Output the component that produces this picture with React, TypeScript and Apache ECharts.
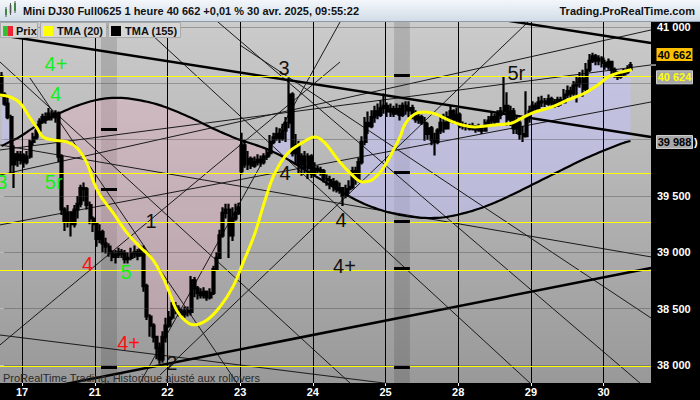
import React, { useEffect, useRef } from 'react';
import * as echarts from 'echarts';

const FONT = '"Liberation Sans", Arial, sans-serif';

// ---- axes ----
const dayTicks = [7, 30, 53, 76, 99, 122, 145, 168, 191];
const dayLabels = ['17', '21', '22', '23', '24', '25', '28', '29', '30'];
const priceTicks = [38000, 38500, 39000, 39500, 40000, 40500, 41000];
const priceLabels = [38000, 38500, 39000, 39500, 41000];
const yellowLevels = [40565, 39705, 39270, 38845, 37990];

// ---- hourly candles [open, close, low, high] ----
const candles: number[][] = [
  [40560, 40400, 40380, 40600], [40400, 40320, 40300, 40420], [40320, 40200, 40180, 40380], [40200, 39780, 39700, 40220],
  [39780, 39870, 39570, 39950], [39870, 39820, 39760, 39900], [39820, 39860, 39780, 39900], [39860, 39800, 39750, 39880],
  [39800, 39850, 39780, 39900], [39850, 39980, 39830, 40000], [39980, 40020, 39950, 40060], [40020, 40080, 40000, 40110],
  [40080, 40160, 40060, 40190], [40160, 40200, 40140, 40230], [40200, 40180, 40140, 40240], [40180, 40230, 40170, 40280],
  [40230, 40200, 40170, 40260], [40200, 40230, 40150, 40260], [40230, 39850, 39800, 40250], [39850, 39380, 39330, 39870],
  [39380, 39270, 39190, 39400], [39270, 39350, 39220, 39420], [39350, 39250, 39140, 39360], [39250, 39380, 39220, 39420],
  [39380, 39430, 39300, 39500], [39430, 39570, 39400, 39600], [39570, 39560, 39450, 39620], [39560, 39420, 39380, 39580],
  [39420, 39300, 39250, 39450], [39300, 39250, 39180, 39320], [39250, 39120, 39050, 39260], [39120, 39180, 39080, 39250],
  [39180, 39080, 39000, 39200], [39080, 39050, 38990, 39130], [39050, 39000, 38960, 39080], [39000, 38960, 38920, 39020],
  [38960, 38980, 38900, 39020], [38980, 39000, 38950, 39040], [39000, 38990, 38950, 39030], [38990, 38940, 38900, 39020],
  [38940, 38950, 38900, 39000], [38950, 38990, 38930, 39040], [38990, 39000, 38950, 39060], [39000, 38970, 38930, 39030],
  [38970, 39030, 38960, 39060], [39030, 38700, 38650, 39060], [38700, 38430, 38400, 38720], [38430, 38350, 38250, 38450],
  [38350, 38250, 38200, 38370], [38250, 38150, 38050, 38260], [38150, 38050, 38010, 38200], [38050, 38250, 38020, 38300],
  [38250, 38350, 38200, 38420], [38350, 38420, 38330, 38480], [38420, 38520, 38400, 38560], [38520, 38500, 38450, 38560],
  [38500, 38470, 38430, 38530], [38470, 38450, 38420, 38500], [38450, 38480, 38420, 38520], [38480, 38470, 38430, 38520],
  [38470, 38750, 38440, 38790], [38750, 38680, 38600, 38780], [38680, 38640, 38580, 38700], [38640, 38620, 38590, 38680],
  [38620, 38650, 38590, 38690], [38650, 38600, 38570, 38660], [38600, 38640, 38580, 38680], [38640, 38850, 38620, 38880],
  [38850, 38950, 38840, 39000], [38950, 39150, 38940, 39200], [39150, 39350, 39130, 39400], [39350, 39380, 39300, 39430],
  [39380, 39150, 38950, 39430], [39150, 39300, 39100, 39400], [39300, 39350, 39280, 39430], [39350, 39400, 39330, 39440],
  [39720, 39950, 39690, 40060], [39950, 39780, 39750, 40000], [39780, 39830, 39730, 39900], [39830, 39770, 39740, 39850],
  [39770, 39800, 39750, 39850], [39800, 39820, 39770, 39870], [39820, 39800, 39760, 39860], [39800, 39850, 39780, 39880],
  [39850, 39880, 39820, 39920], [39880, 39980, 39850, 40040], [39980, 40020, 39960, 40060], [40020, 40050, 39990, 40110],
  [40050, 40010, 39970, 40100], [40010, 40080, 39990, 40140], [40080, 40150, 39980, 40200], [40150, 40400, 40100, 40550],
  [40400, 39880, 39850, 40420], [39880, 39950, 39780, 40050], [39950, 39780, 39700, 39990], [39780, 39850, 39680, 39880],
  [39850, 39750, 39700, 39900], [39750, 39850, 39650, 39880], [39850, 39700, 39660, 39870], [39700, 39740, 39680, 39800],
  [39740, 39730, 39700, 39770], [39730, 39720, 39680, 39760], [39720, 39650, 39620, 39740], [39650, 39640, 39590, 39690],
  [39640, 39600, 39560, 39680], [39600, 39620, 39540, 39660], [39620, 39560, 39530, 39640], [39560, 39570, 39520, 39620],
  [39570, 39500, 39410, 39580], [39500, 39560, 39480, 39600], [39560, 39580, 39520, 39640], [39580, 39720, 39560, 39760],
  [39720, 39650, 39600, 39760], [39650, 39800, 39620, 39840], [39800, 39980, 39780, 40030], [39980, 40150, 39950, 40200],
  [40150, 40120, 40050, 40250], [40120, 40200, 40100, 40260], [40200, 40250, 40150, 40300], [40250, 40220, 40180, 40320],
  [40220, 40280, 40200, 40350], [40280, 40300, 40230, 40410], [40300, 40250, 40200, 40330], [40250, 40270, 40200, 40320],
  [40270, 40230, 40200, 40300], [40230, 40270, 40220, 40320], [40270, 40220, 40170, 40310], [40220, 40300, 40200, 40330],
  [40300, 40260, 40220, 40340], [40260, 40280, 40200, 40340], [40280, 40230, 40180, 40310], [40230, 40180, 40150, 40260],
  [40180, 40200, 40140, 40240], [40200, 40150, 40130, 40220], [40150, 40050, 39990, 40200], [40050, 40100, 40000, 40150],
  [40100, 40000, 39950, 40120], [40000, 39980, 39860, 40060], [39980, 40080, 39960, 40100], [40080, 40150, 40050, 40200],
  [40150, 40100, 40060, 40230], [40100, 40200, 40090, 40250], [40200, 40250, 40150, 40300], [40250, 40180, 40140, 40270],
  [40180, 40220, 40150, 40280], [40220, 40130, 40100, 40240], [40130, 40120, 40090, 40160], [40120, 40110, 40080, 40150],
  [40110, 40100, 40080, 40140], [40100, 40120, 40080, 40150], [40120, 40090, 40060, 40130], [40090, 40100, 40070, 40140],
  [40100, 40080, 40050, 40120], [40080, 40150, 40070, 40180], [40150, 40170, 40120, 40210], [40170, 40200, 40130, 40240],
  [40200, 40160, 40130, 40230], [40160, 40220, 40150, 40260], [40220, 40250, 40180, 40290], [40250, 40300, 40220, 40560],
  [40300, 40180, 40120, 40420], [40180, 40250, 40120, 40300], [40250, 40100, 40050, 40280], [40100, 40150, 40050, 40200],
  [40150, 40050, 40000, 40180], [40050, 40030, 39980, 40120], [40030, 40200, 40020, 40430], [40200, 40250, 40150, 40300],
  [40250, 40300, 40230, 40340], [40300, 40280, 40240, 40330], [40280, 40330, 40260, 40380], [40330, 40340, 40290, 40390],
  [40340, 40320, 40290, 40370], [40320, 40360, 40300, 40400], [40360, 40330, 40300, 40380], [40330, 40300, 40280, 40360],
  [40300, 40350, 40290, 40380], [40350, 40330, 40300, 40380], [40330, 40400, 40320, 40450], [40400, 40430, 40370, 40480],
  [40430, 40410, 40370, 40470], [40410, 40480, 40390, 40520], [40480, 40500, 40330, 40560], [40500, 40540, 40460, 40600],
  [40540, 40450, 40380, 40620], [40450, 40620, 40430, 40680], [40620, 40700, 40600, 40760], [40700, 40740, 40680, 40770],
  [40740, 40700, 40660, 40760], [40700, 40720, 40660, 40750], [40720, 40680, 40640, 40740], [40680, 40650, 40620, 40710],
  [40650, 40690, 40620, 40720], [40690, 40620, 40580, 40700], [40620, 40580, 40550, 40640], [40580, 40560, 40530, 40610],
  [40560, 40580, 40540, 40610], [40580, 40600, 40560, 40630], [40600, 40620, 40580, 40660], [40620, 40662, 40610, 40690],
];

// ---- TMA(155), one value per bar ----
const tma155 = [
  39944, 39958, 39972, 39986, 40000, 40012, 40030,
  40048, 40067, 40086, 40104, 40122, 40140, 40158, 40175, 40192,
  40205, 40218, 40231, 40244, 40256, 40268, 40280,
  40292, 40302, 40312, 40321, 40330, 40338, 40345, 40352,
  40357, 40362, 40366, 40369,
  40370, 40371, 40371, 40370, 40368, 40366, 40362,
  40358, 40353, 40348, 40342, 40336, 40330, 40323,
  40315, 40306, 40297, 40287, 40276, 40265,
  40254, 40242, 40230, 40218, 40206, 40194,
  40181, 40167, 40153, 40139, 40125, 40111, 40097,
  40085, 40072, 40060, 40048, 40036, 40024,
  40013, 40002, 39992, 39983, 39975, 39966,
  39957, 39947, 39937, 39927, 39917, 39905,
  39891, 39877, 39863, 39849, 39834, 39818,
  39801, 39784, 39767, 39750, 39732, 39715,
  39698, 39681, 39664, 39647, 39630, 39613, 39596,
  39579, 39562, 39545, 39528, 39512, 39497,
  39482, 39467, 39453, 39440, 39427, 39415,
  39404, 39394, 39384, 39375, 39366, 39358, 39351,
  39344, 39338, 39332, 39327, 39322, 39318, 39314,
  39311, 39308, 39306, 39305, 39304, 39304, 39305,
  39306, 39308, 39311, 39315, 39320, 39325, 39331,
  39338, 39345, 39352, 39360, 39368, 39377, 39386,
  39396, 39406, 39417, 39428, 39440, 39452, 39465,
  39478, 39491, 39504, 39517, 39531, 39545, 39559,
  39573, 39587, 39601, 39615, 39629, 39643, 39657,
  39671, 39685, 39699, 39713, 39727, 39741, 39755,
  39769, 39783, 39797, 39810, 39823, 39836, 39849,
  39861, 39873, 39885, 39897, 39908, 39919, 39930,
  39941, 39952, 39963, 39973, 39981, 39988,
];

// ---- TMA(20), readings [x, value] ----
const tma20: number[][] = [
  [0, 40397], [3.2, 40379], [6.3, 40326], [9.5, 40193], [11.7, 40104], [13.6, 40024], [16.8, 39997],
  [21.2, 39980], [24.4, 39926], [27.5, 39793], [29.4, 39642], [31.6, 39509], [35.8, 39350], [40.2, 39172],
  [44.3, 39048], [48.4, 38933], [51.6, 38775], [53.8, 38630], [56, 38480], [58.5, 38395], [61.1, 38356],
  [65.5, 38400], [69.6, 38516], [73.7, 38693], [76.9, 38906], [80.7, 39172], [83.9, 39465], [87, 39705],
  [91.1, 39882], [95.6, 39971], [99.7, 40024], [102.8, 39971], [107, 39820], [111.4, 39687], [114.6, 39625],
  [117.7, 39642], [120.9, 39731], [124, 39882], [126.6, 40024], [128.2, 40139], [131.3, 40228], [134.5, 40246],
  [137.7, 40228], [141.8, 40175], [146.2, 40130], [150.3, 40113], [156.6, 40130], [162, 40148], [165.2, 40193],
  [169.3, 40246], [174.7, 40290], [179.7, 40352], [185.1, 40414], [189.2, 40485], [192.4, 40556], [195.6, 40592],
  [199.4, 40618], [199.9, 40624],
];

// ---- drawn trend lines [x1, y1, x2, y2] ----
const thickLines = [
  [0, 40929, 206, 40024],
  [120.2, 41231, 206, 40858],
  [0, 37716, 206, 38861],
];
const thinLines = [
  [0, 40689, 110.75, 37840],
  [9.49, 40547, 75, 37840],
  [43.67, 41044, 167.7, 37840],
  [68.98, 41044, 202.5, 37840],
  [50.63, 37911, 167.1, 41044],
  [0, 39686, 206, 40973],
  [0, 39243, 206, 40334],
  [0, 39908, 206, 40663],
  [0, 39953, 206, 38959],
  [0, 38266, 126.6, 37822],
  [0, 38178, 107.6, 40689],
  [44.3, 37840, 107.6, 41044],
  [75.9, 40840, 206, 38417],
];

// ---- shaded sessions and their marks ----
const bands = [[31.96, 37.02], [124.7, 129.7]];
const bandMarks = [
  [0, 40095], [0, 39562], [0, 37982],
  [1, 40574], [1, 39713], [1, 39278], [1, 38861], [1, 37982],
];

// ---- wave labels ----
const GREEN = '#14f014';
const RED = '#ff1010';
const DARK = '#111111';
const waveLabels = [
  { t: '4+', x: 17.7, y: 40667, c: GREEN },
  { t: '4', x: 17.7, y: 40401, c: GREEN },
  { t: '5r', x: 17.0, y: 39620, c: GREEN },
  { t: '3', x: 0.6, y: 39620, c: GREEN },
  { t: '1', x: 47.8, y: 39274, c: DARK },
  { t: '4', x: 27.7, y: 38892, c: RED },
  { t: '5', x: 39.9, y: 38821, c: GREEN },
  { t: '4+', x: 40.7, y: 38191, c: RED },
  { t: '2', x: 54.4, y: 38015, c: DARK },
  { t: '3', x: 89.9, y: 40632, c: DARK },
  { t: '4', x: 90.2, y: 39704, c: DARK },
  { t: '4', x: 107.9, y: 39287, c: DARK },
  { t: '4+', x: 109, y: 38874, c: DARK },
  { t: '5r', x: 163.4, y: 40592, c: DARK },
];

const lastPrice = 40662;
const lastTma20 = 40624;
const lastTma155 = 39988;

const fmt = (v: number) => String(Math.round(v)).replace(/\B(?=(\d{3})+(?!\d))/g, ' ');

export default function App() {
  const ref = useRef<HTMLDivElement>(null);
  useEffect(() => {
    if (!ref.current) return;
    const chart = echarts.init(ref.current, undefined, { renderer: 'svg' });

    const xs = candles.map((_, i) => i + 0.5);
    const closes = candles.map((c) => c[1]);

    const lineSeries = (arr: number[][], width: number, color: string) =>
      arr.map((l) => ({
        type: 'line',
        data: [[l[0], l[1]], [l[2], l[3]]],
        showSymbol: false,
        silent: true,
        clip: true,
        lineStyle: { color, width },
        z: 2,
      }));

    const option: any = {
      animation: false,
      backgroundColor: '#000',
      grid: {
        left: 0, right: 49, top: 22, bottom: 17, show: true, borderWidth: 0,
        backgroundColor: new echarts.graphic.LinearGradient(0, 0, 0, 1, [
          { offset: 0, color: '#cbcbcb' },
          { offset: 1, color: '#999999' },
        ]),
      },
      xAxis: {
        type: 'value', min: 0, max: 206,
        axisLine: { show: false }, splitLine: { show: false },
        axisTick: { show: true, customValues: dayTicks, length: 3, lineStyle: { color: '#fff' } },
        axisLabel: {
          customValues: dayTicks, color: '#fff', fontWeight: 'bold', fontSize: 11, fontFamily: FONT, margin: 3,
          formatter: (v: number) => { const k = dayTicks.indexOf(Math.round(v)); return k >= 0 ? dayLabels[k] : ''; },
        },
      },
      yAxis: {
        type: 'value', position: 'right', min: 37840, max: 41044,
        axisLine: { show: false }, splitLine: { show: false },
        axisTick: { show: true, customValues: priceTicks, length: 4, lineStyle: { color: '#fff' } },
        axisLabel: { customValues: priceLabels, formatter: fmt, color: '#fff', fontWeight: 'bold', fontSize: 11, fontFamily: FONT, margin: 6 },
      },
      series: [
        {
          type: 'line', data: [], z: 1, silent: true,
          markArea: {
            silent: true,
            itemStyle: { color: 'rgba(0,0,0,0.13)' },
            data: bands.map((b) => [{ xAxis: b[0] }, { xAxis: b[1] }]),
          },
        },
        {
          // cloud between the price and TMA(155): pink below, lavender above
          type: 'custom', data: [[0, 40000]], silent: true, z: 1, clip: true,
          renderItem: (_p: any, api: any) => {
            const mid = xs.map((x, i) => api.coord([x, tma155[i]]));
            const lower = xs.map((x, i) => api.coord([x, Math.min(closes[i], tma155[i])]));
            const upper = xs.map((x, i) => api.coord([x, Math.max(closes[i], tma155[i])]));
            return {
              type: 'group',
              children: [
                { type: 'polygon', shape: { points: [...mid, ...lower.slice().reverse()] }, style: { fill: 'rgba(235,170,195,0.32)' } },
                { type: 'polygon', shape: { points: [...upper, ...mid.slice().reverse()] }, style: { fill: 'rgba(195,195,255,0.5)' } },
              ],
            };
          },
        },
        {
          type: 'line', data: [], z: 2, silent: true,
          markLine: {
            silent: true, symbol: ['none', 'none'], label: { show: false },
            data: [
              ...priceTicks.map((v) => ({ yAxis: v, lineStyle: { color: 'rgba(60,60,60,0.35)', width: 1, type: 'solid' } })),
              ...dayTicks.map((v) => ({ xAxis: v, lineStyle: { color: '#000', width: 1, type: 'solid' } })),
              ...yellowLevels.map((v) => ({ yAxis: v, lineStyle: { color: '#ffff00', width: 1, type: 'solid' } })),
              ...bandMarks.map((m) => [
                { coord: [bands[m[0]][0], m[1]], lineStyle: { color: '#000', width: 3, type: 'solid' } },
                { coord: [bands[m[0]][1], m[1]] },
              ]),
            ],
          },
        },
        ...lineSeries(thinLines, 1, '#1a1a1a'),
        ...lineSeries(thickLines, 2.5, '#000'),
        {
          type: 'line', name: 'TMA (155)', data: tma155.map((v, i) => [xs[i], v]), showSymbol: false, silent: true,
          lineStyle: { color: '#000', width: 2.2 }, z: 3,
        },
        {
          type: 'candlestick', name: 'Prix',
          data: candles.map((c, i) => [xs[i], c[0], c[1], c[2], c[3]]),
          encode: { x: 0, y: [1, 2, 3, 4] },
          barWidth: 2.5,
          itemStyle: { color: '#2bd92b', color0: '#ff2a55', borderColor: '#000', borderColor0: '#000', borderColorDoji: '#000', borderWidth: 2.2 },
          silent: true, z: 4,
        },
        {
          type: 'line', name: 'TMA (20)', data: tma20, showSymbol: false, smooth: 0.4, silent: true,
          lineStyle: { color: '#ffff00', width: 3 }, z: 5,
        },
      ],
    };
    chart.setOption(option);

    const py = (v: number) => chart.convertToPixel({ yAxisIndex: 0 }, v) as number;
    const pt = (x: number, v: number) => chart.convertToPixel({ gridIndex: 0 }, [x, v]) as number[];
    const yPrice = py(lastPrice);
    const yT20 = py(lastTma20);
    const yT155 = py(lastTma155);

    const txt = (text: string, x: number, y: number, font: string, fill: string, align = 'left') => ({
      type: 'text', x, y, z: 101, silent: true,
      style: { text, font, fill, textAlign: align, textVerticalAlign: 'middle', align, verticalAlign: 'middle' },
    });
    const rect = (x: number, y: number, w: number, h: number, fill: any, stroke?: string) => ({
      type: 'rect', z: 100, silent: true, shape: { x, y, width: w, height: h },
      style: { fill, stroke: stroke || null, lineWidth: stroke ? 1 : 0 },
    });
    const boldF = `bold 11px ${FONT}`;

    const waveTexts = waveLabels.map((w) => {
      const p = pt(w.x, w.y);
      return { ...txt(w.t, p[0], p[1], `20px ${FONT}`, w.c, 'center'), z: 50 };
    });

    const graphic: any[] = [
      ...waveTexts,
      rect(0, 0, 700, 21, new echarts.graphic.LinearGradient(0, 0, 0, 1, [
        { offset: 0, color: '#f3f7fb' }, { offset: 1, color: '#d2dce7' },
      ])),
      { type: 'line', z: 101, silent: true, shape: { x1: 0, y1: 21.5, x2: 700, y2: 21.5 }, style: { stroke: '#8e9aa7', lineWidth: 1 } },
      // title icon
      rect(5, 9, 2, 6, '#33b833'), { type: 'line', z: 101, shape: { x1: 6, y1: 7, x2: 6, y2: 17 }, style: { stroke: '#555', lineWidth: 1 } },
      rect(9.5, 5, 2, 8, '#888'), { type: 'line', z: 101, shape: { x1: 10.5, y1: 3, x2: 10.5, y2: 15 }, style: { stroke: '#555', lineWidth: 1 } },
      rect(14, 3, 2, 8, '#33b833'), { type: 'line', z: 101, shape: { x1: 15, y1: 1, x2: 15, y2: 13 }, style: { stroke: '#555', lineWidth: 1 } },
      txt(`Mini DJ30 Full0625 1 heure ${fmt(lastPrice)} +0,01 % 30 avr. 2025, 09:55:22`, 23, 11, boldF, '#111'),
      txt('Trading.ProRealTime.com', 695, 11, boldF, '#111', 'right'),
      // legend
      rect(0.5, 22.5, 37, 15, '#d6d6d6', '#a9a9a9'),
      rect(3, 26, 5, 10, '#33c033'), rect(8, 26, 5, 10, '#ee2233'),
      txt('Prix', 16, 31, boldF, '#111'),
      rect(40.5, 22.5, 66, 15, '#d6d6d6', '#a9a9a9'),
      rect(43, 26, 10, 10, '#ffff00'),
      txt('TMA (20)', 57, 31, boldF, '#111'),
      rect(108.5, 22.5, 72, 15, '#d6d6d6', '#a9a9a9'),
      rect(111, 26, 10, 10, '#000'),
      txt('TMA (155)', 125, 31, boldF, '#111'),
      // footer note
      txt('ProRealTime Trading, Historique ajusté aux rollovers', 3, 377.5, `11px ${FONT}`, '#2a2a2a'),
      // right-axis value boxes
      { type: 'line', z: 101, silent: true, shape: { x1: 651, y1: yPrice, x2: 656, y2: yPrice }, style: { stroke: '#fff', lineWidth: 1 } },
      rect(656.5, yPrice - 17, 36, 13, '#ffc000'),
      txt(fmt(lastPrice), 674.5, yPrice - 10.5, boldF, '#000', 'center'),
      rect(656.5, yT20 + 1.5, 36, 13, '#a8a8a8', '#cfcfcf'),
      txt(fmt(lastTma20), 674.5, yT20 + 8, boldF, '#ffff00', 'center'),
      rect(656.5, yT155 - 5.5, 36, 13, '#a8a8a8', '#cfcfcf'),
      txt(fmt(lastTma155), 674.5, yT155 + 1, boldF, '#000', 'center'),
      txt(')', 694, yT155 + 1, boldF, '#fff'),
    ];
    chart.setOption({ graphic });

    return () => chart.dispose();
  }, []);
  return <div ref={ref} style={{ width: 700, height: 400, position: 'absolute', left: 0, top: 0 }} />;
}
